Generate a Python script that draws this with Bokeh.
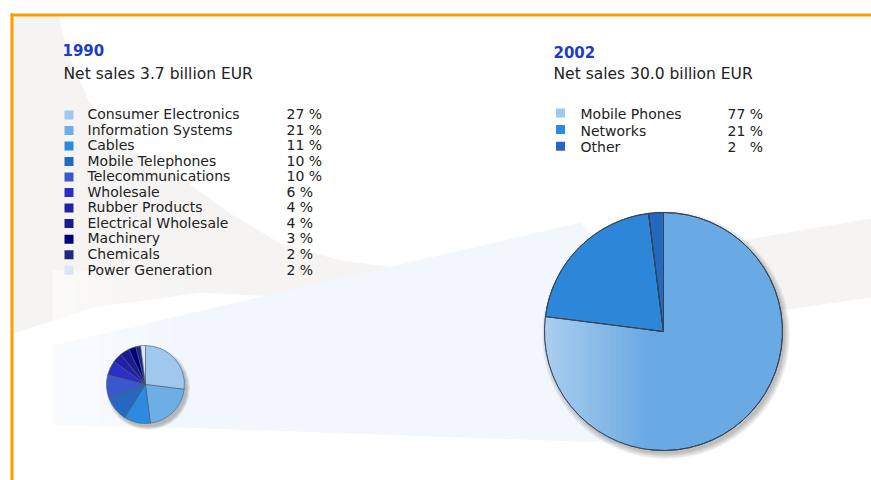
import numpy as np
from bokeh.plotting import figure
from bokeh.models import Range1d, ColumnDataSource
from bokeh.core.properties import value
from bokeh.embed import file_html
from bokeh.resources import INLINE

# ---------------- data ----------------
year_1990 = "1990"
sales_1990 = "Net sales 3.7 billion EUR"
segments_1990 = ["Consumer Electronics", "Information Systems", "Cables",
                 "Mobile Telephones", "Telecommunications", "Wholesale",
                 "Rubber Products", "Electrical Wholesale", "Machinery",
                 "Chemicals", "Power Generation"]
shares_1990 = [27, 21, 11, 10, 10, 6, 4, 4, 3, 2, 2]
colors_1990 = ["#a0c8ec", "#6eaee6", "#2e8ade", "#2468c0", "#3a58cc", "#2a2ec6",
               "#2020a8", "#1c1c90", "#000080", "#22267e", "#dce4f8"]

year_2002 = "2002"
sales_2002 = "Net sales 30.0 billion EUR"
segments_2002 = ["Mobile Phones", "Networks", "Other"]
shares_2002 = [77, 21, 2]
colors_2002 = ["#a0c8ec", "#2e8ade", "#2468c0"]
slice_colors_2002 = ["#6aaae4", "#2e86d8", "#2468c0"]

W, H = 871, 480
TOFF = 6.5  # text baseline correction


def X(px):
    return px


def Y(py):
    return H - py


def TY(py):
    return H - (py - TOFF)


p = figure(width=W, height=H, output_backend="svg", toolbar_location=None,
           x_range=Range1d(0, W), y_range=Range1d(0, H), min_border=0,
           x_axis_location=None, y_axis_location=None,
           background_fill_color="white", border_fill_color="white")
p.outline_line_color = None
p.xgrid.visible = False
p.ygrid.visible = False

# ---------------- background decoration ----------------
gray_pts = [(13, 16), (58, 16), (68, 55), (88, 100), (118, 140), (150, 162), (187, 182),
            (230, 213), (280, 243), (340, 260), (420, 270), (520, 271), (620, 262),
            (700, 248), (780, 233), (871, 218), (871, 297), (780, 310), (650, 318),
            (500, 310), (350, 300), (200, 292), (93, 307), (13, 333)]
p.patch([X(a) for a, b in gray_pts], [Y(b) for a, b in gray_pts],
        fill_color="#f5f4f2", line_color=None)

blue_pts = [(52, 345), (580, 222), (650, 300), (690, 445), (180, 427), (52, 425)]
p.patch([X(a) for a, b in blue_pts], [Y(b) for a, b in blue_pts],
        fill_color="#f1f7fd", line_color=None)
# lighten left end of band
for i in range(12):
    x0 = 52 + i * 12
    p.quad(left=X(x0), right=X(x0 + 12), top=Y(270), bottom=Y(432),
           fill_color="white", fill_alpha=0.55 * (1 - i / 12), line_color=None)

# orange frame
p.quad(left=X(10), right=X(13), top=Y(13), bottom=Y(480), fill_color="#ff9c00", line_color=None)
p.quad(left=X(10), right=X(871), top=Y(13), bottom=Y(16), fill_color="#ff9c00", line_color=None)


# ---------------- pies ----------------
def shadow(cx, cy, r, spread):
    for k in range(5):
        p.circle(x=[cx + 2.5], y=[cy - 3.5], radius=r + spread * k / 4,
                 fill_color="black", fill_alpha=0.055, line_color=None)


def pie(cx, cy, r, vals, fills, lc, lw):
    tot = float(sum(vals))
    cum = np.concatenate([[0.0], np.cumsum(vals)]) / tot
    start = np.pi / 2 - 2 * np.pi * cum[:-1]
    end = np.pi / 2 - 2 * np.pi * cum[1:]
    n = len(vals)
    src = ColumnDataSource(dict(x=[cx] * n, y=[cy] * n, s=start, e=end, f=fills))
    p.wedge(x="x", y="y", radius=r, start_angle="s", end_angle="e", direction="clock",
            fill_color="f", line_color=lc, line_width=lw, source=src)
    return src


# small pie (1990)
scx, scy, sr = X(145), Y(384), 39
shadow(scx, scy, sr, 3)
pie(scx, scy, sr, shares_1990, colors_1990, "#4a5a70", 0.6)

# big pie (2002)
bcx, bcy, br = X(663), Y(331), 119
shadow(bcx, bcy, br, 5)
bsrc = pie(bcx, bcy, br, shares_2002, slice_colors_2002, "#34445a", 1)

# horizontal gradient on the left part of the first slice
end_ang = np.pi / 2 - 2 * np.pi * shares_2002[0] / sum(shares_2002)
tan_b = np.tan(np.pi - (end_ang % (2 * np.pi)))
c0 = np.array([0xad, 0xcf, 0xee], float)
c1 = np.array([0x6a, 0xaa, 0xe4], float)
nstr = 40
xs_l = bcx - br + 0.3
xs_r = bcx - 15
xsx, ysx, cols = [], [], []
for i in range(nstr):
    a = xs_l + (xs_r - xs_l) * i / nstr
    b = xs_l + (xs_r - xs_l) * (i + 1) / nstr
    xx = np.linspace(a, b, 5)
    dx = bcx - xx
    circ = np.sqrt(np.maximum(br ** 2 - dx ** 2, 0))
    top = np.minimum(bcy + circ, bcy + dx * tan_b)
    bot = bcy - circ
    xsx.append(list(xx) + list(xx[::-1]))
    ysx.append(list(top) + list(bot[::-1]))
    t = (i + 0.5) / nstr
    c = c0 + (c1 - c0) * t
    cols.append("#%02x%02x%02x" % tuple(int(round(v)) for v in c))
p.patches(xs=xsx, ys=ysx, fill_color=cols, line_color=cols, line_width=0.6)
# re-draw outlines
p.wedge(x="x", y="y", radius=br, start_angle="s", end_angle="e", direction="clock",
        fill_alpha=0, line_color="#34445a", line_width=1, source=bsrc)

# ---------------- texts ----------------
FONT = value("DejaVu Sans")
TXT = "#222222"
BLUE = "#1c3cc8"

p.text(x=[X(62)], y=[TY(56)], text=[year_1990], text_font=FONT, text_font_size="15px",
       text_font_style="bold", text_color=BLUE, text_baseline="alphabetic")
p.text(x=[X(63)], y=[TY(79.5)], text=[sales_1990], text_font=FONT, text_font_size="15.5px",
       text_color=TXT, text_baseline="alphabetic")
p.text(x=[X(553)], y=[TY(57.5)], text=[year_2002], text_font=FONT, text_font_size="15px",
       text_font_style="bold", text_color=BLUE, text_baseline="alphabetic")
p.text(x=[X(553)], y=[TY(79.5)], text=[sales_2002], text_font=FONT, text_font_size="15.5px",
       text_color=TXT, text_baseline="alphabetic")

# 1990 legend
n1 = len(segments_1990)
base1 = [120.2 + 15.53 * i for i in range(n1)]
p.rect(x=[X(68.5)] * n1, y=[Y(b - 5.8) for b in base1], width=9, height=9,
       fill_color=colors_1990, line_color=None)
p.text(x=[X(87)] * n1, y=[TY(b) for b in base1], text=segments_1990, text_font=FONT,
       text_font_size="14px", text_color=TXT, text_baseline="alphabetic")
p.text(x=[X(286)] * n1, y=[TY(b) for b in base1], text=["%d %%" % v for v in shares_1990],
       text_font=FONT, text_font_size="14px", text_color=TXT, text_baseline="alphabetic")

# 2002 legend
n2 = len(segments_2002)
base2 = [120 + 16.6 * i for i in range(n2)]
p.rect(x=[X(560)] * n2, y=[Y(b - 7.5) for b in base2], width=9, height=9,
       fill_color=colors_2002, line_color=None)
p.text(x=[X(580)] * n2, y=[TY(b) for b in base2], text=segments_2002, text_font=FONT,
       text_font_size="14px", text_color=TXT, text_baseline="alphabetic")
lbl2 = [str(v) + "\u00a0" * (2 * (2 - len(str(v)))) + " %" for v in shares_2002]
p.text(x=[X(727)] * n2, y=[TY(b) for b in base2], text=lbl2, text_font=FONT,
       text_font_size="14px", text_color=TXT, text_baseline="alphabetic")

open("out.html", "w").write(file_html(p, INLINE))
